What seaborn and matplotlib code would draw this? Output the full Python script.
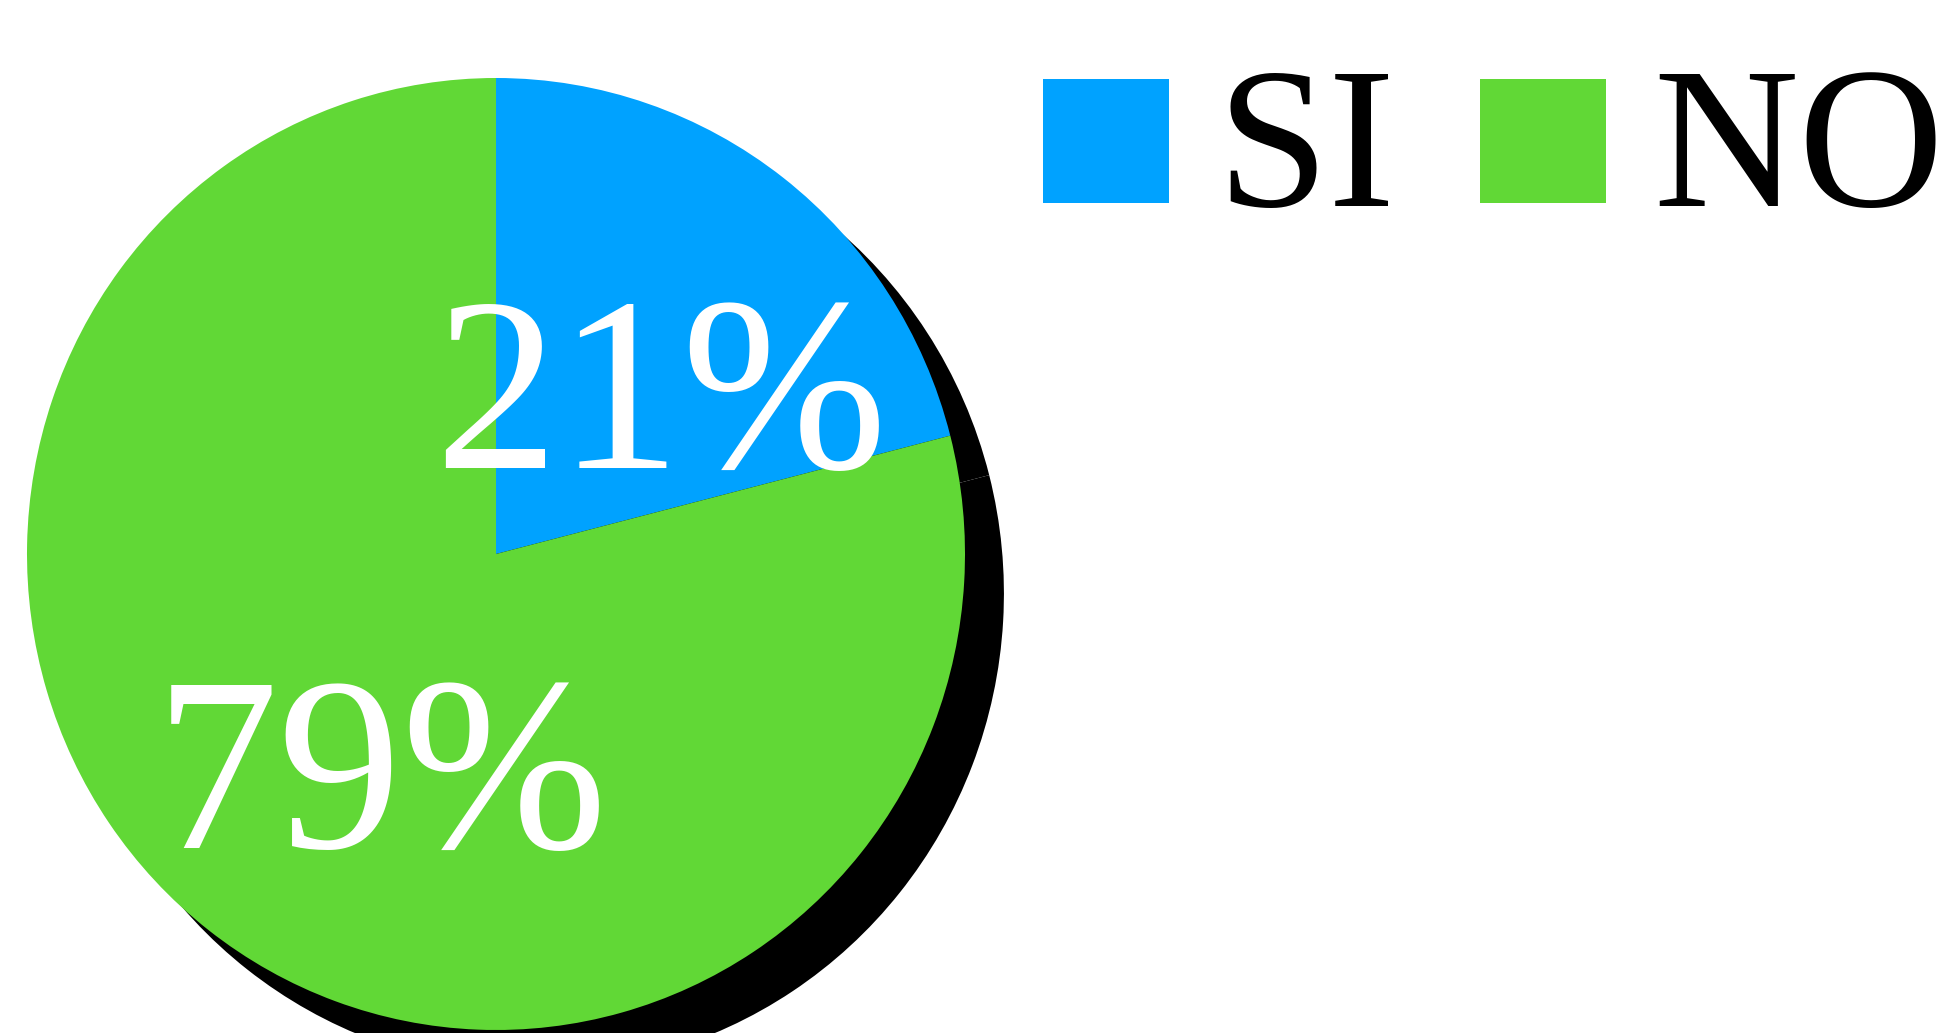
import matplotlib
matplotlib.use('Agg')
import matplotlib.pyplot as plt
import matplotlib.patches as mpatches
from matplotlib import font_manager
from matplotlib.legend_handler import HandlerPatch
import seaborn as sns

# data
labels = ['SI', 'NO']
values = [21, 79]
colors = ['#00A2FF', '#61D836']

# where the white percent labels sit (data units, pie radius = 1)
label_pos = [(0.352, 0.307), (-0.245, -0.492)]

W, H = 1952, 1033
cx, cy = 496, 554               # pie centre in pixels
rx, ry = 469, 476               # pie radius in pixels (slightly taller than wide)
shadow_off = 0.083              # black shadow offset, in pie radii

sns.set_style('white')
plt.rcParams['text.color'] = 'black'

# Times-like serif (Liberation Serif) picked up by file name
serif_files = [p for p in font_manager.findSystemFonts()
               if 'serif-regular' in p.lower() and 'sans' not in p.lower()]
serif_files = [p for p in serif_files if 'liberation' in p.lower()] + serif_files


def serif_font(size):
    if serif_files:
        return font_manager.FontProperties(fname=serif_files[0], size=size)
    return font_manager.FontProperties(family='serif', size=size)


def square_handle(legend, orig_handle, xdescent, ydescent, width, height, fontsize):
    # flat square that sits just above the text baseline
    return mpatches.Rectangle((-xdescent, 2.2), width, 89.3)


fig = plt.figure(figsize=(W / 100, H / 100), dpi=100)
ax = fig.add_axes([0, 0, 1, 1])

# shadow: same pie in black, nudged right and down
ax.pie(values, colors=['black', 'black'], startangle=90, counterclock=False,
       radius=1, center=(shadow_off, -shadow_off),
       wedgeprops={'linewidth': 0})

wedges, texts, autotexts = ax.pie(values, colors=sns.color_palette(colors),
                                  startangle=90, counterclock=False, radius=1,
                                  autopct='%1.0f%%',
                                  wedgeprops={'linewidth': 0},
                                  textprops={'color': 'white'})
for t, pos in zip(autotexts, label_pos):
    t.set_fontproperties(serif_font(178))
    t.set_position(pos)
    t.set_ha('center')
    t.set_va('center')

ax.set_aspect('auto')
ax.set_xlim(-cx / rx, (W - cx) / rx)
ax.set_ylim((cy - H) / ry, cy / ry)
ax.axis('off')

leg = ax.legend(wedges, labels, loc='lower left',
                bbox_to_anchor=(1043 / W, 1 - 249 / H), bbox_transform=fig.transFigure,
                ncol=2, frameon=False, prop=serif_font(145),
                handler_map={mpatches.Wedge: HandlerPatch(patch_func=square_handle)},
                handlelength=0.626, handleheight=0.62, handletextpad=0.235,
                columnspacing=0.42, borderpad=0, borderaxespad=0)
for t in leg.get_texts():
    t.set_color('black')

fig.savefig('out.png', dpi=100)
